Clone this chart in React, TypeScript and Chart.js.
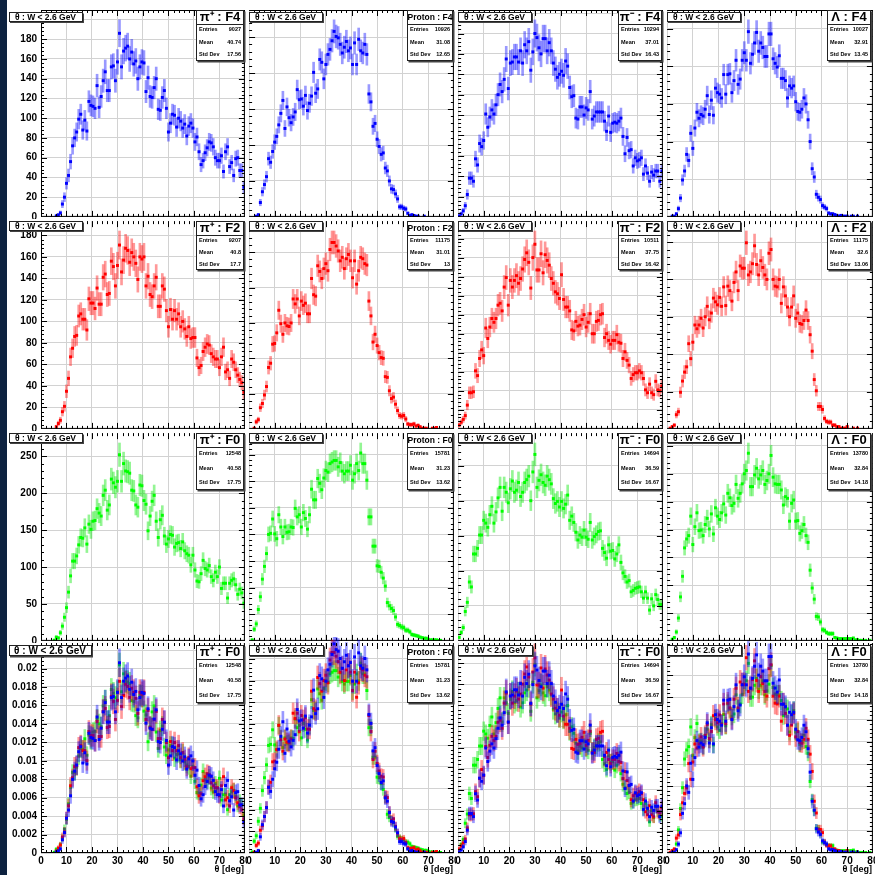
import React, { useEffect, useRef } from 'react';
import { Chart, registerables } from 'chart.js';

Chart.register(...registerables);

// ---------------- data ----------------
// 100 θ bins of 0.8 deg between 0 and 80 deg (bin centres)
const THETA_BIN_WIDTH = 0.8;
const THETA_BINS = Array.from({ length: 100 }, (_, i) => Math.round((i + 0.5) * THETA_BIN_WIDTH * 100) / 100);

// counts per bin, filter F4 (blue)
const PIP_F4 = [
  0, 0, 0, 0, 0, 0, 0, 1, 2, 4,
  13, 20, 34, 42, 56, 72, 80, 86, 99, 104,
  88, 98, 87, 117, 113, 112, 110, 133, 111, 122,
  138, 147, 128, 128, 152, 153, 138, 157, 186, 152,
  168, 171, 173, 160, 167, 155, 158, 140, 152, 157,
  156, 127, 141, 122, 121, 131, 140, 109, 108, 121,
  128, 110, 86, 95, 104, 103, 91, 100, 97, 90,
  94, 82, 92, 95, 90, 76, 81, 66, 53, 57,
  65, 70, 76, 75, 71, 60, 57, 57, 62, 46,
  66, 71, 51, 55, 42, 59, 60, 47, 47, 30,
];
const PROTON_F4 = [
  0, 0, 0, 1, 3, 20, 35, 45, 56, 81,
  76, 91, 104, 112, 128, 144, 162, 123, 153, 138,
  131, 139, 146, 177, 163, 164, 154, 169, 148, 158,
  168, 201, 172, 178, 219, 215, 192, 212, 226, 233,
  245, 258, 251, 249, 240, 228, 236, 244, 231, 235,
  212, 242, 212, 247, 231, 228, 240, 226, 171, 160,
  126, 130, 108, 98, 87, 89, 68, 64, 50, 39,
  38, 32, 25, 14, 14, 12, 11, 5, 2, 3,
  2, 1, 1, 0, 0, 1, 0, 0, 0, 0,
  0, 0, 0, 0, 0, 0, 0, 0, 0, 0,
];
const PIM_F4 = [
  1, 3, 6, 11, 22, 38, 38, 35, 57, 51,
  72, 69, 75, 101, 88, 98, 105, 101, 110, 120,
  130, 123, 135, 155, 126, 151, 152, 157, 157, 152,
  163, 151, 169, 163, 172, 144, 162, 180, 176, 166,
  160, 175, 175, 163, 171, 163, 151, 145, 137, 140,
  143, 139, 153, 148, 127, 118, 119, 97, 96, 108,
  108, 100, 107, 105, 123, 96, 99, 103, 103, 103,
  103, 94, 84, 99, 83, 92, 93, 92, 94, 97,
  79, 62, 78, 65, 66, 50, 58, 55, 56, 58,
  42, 50, 43, 35, 44, 41, 45, 45, 35, 45,
];
const LAMBDA_F4 = [
  0, 0, 1, 1, 4, 11, 25, 49, 61, 83,
  75, 111, 91, 118, 139, 131, 136, 134, 143, 161,
  136, 155, 135, 171, 165, 163, 158, 189, 163, 189,
  190, 165, 181, 208, 176, 183, 208, 218, 208, 246,
  204, 216, 231, 245, 220, 231, 225, 213, 213, 243,
  243, 210, 204, 199, 214, 184, 184, 181, 158, 174,
  171, 174, 153, 140, 139, 143, 158, 150, 129, 100,
  64, 53, 30, 26, 23, 15, 13, 11, 5, 4,
  4, 3, 2, 1, 2, 1, 1, 1, 0, 1,
  1, 0, 1, 0, 0, 0, 0, 0, 0, 0,
];

// filter F2 (red)
const PIP_F2 = [
  0, 0, 0, 0, 0, 0, 0, 2, 5, 8,
  16, 21, 35, 47, 67, 75, 86, 87, 105, 107,
  102, 102, 92, 121, 117, 117, 112, 131, 116, 116,
  141, 144, 125, 126, 156, 151, 133, 152, 171, 146,
  157, 168, 166, 155, 164, 160, 154, 139, 160, 158,
  160, 133, 142, 125, 123, 133, 141, 114, 114, 133,
  130, 110, 95, 111, 102, 110, 102, 107, 95, 100,
  93, 86, 95, 84, 85, 85, 66, 57, 59, 72,
  76, 79, 78, 70, 67, 65, 65, 57, 67, 76,
  53, 55, 47, 65, 62, 55, 50, 46, 43, 34,
];
const PROTON_F2 = [
  0, 0, 1, 10, 13, 30, 36, 48, 60, 87,
  93, 120, 121, 136, 168, 149, 134, 150, 146, 145,
  150, 184, 177, 184, 160, 181, 175, 178, 163, 163,
  213, 190, 188, 231, 223, 213, 227, 234, 224, 254,
  264, 264, 259, 252, 238, 243, 227, 241, 247, 238,
  214, 238, 205, 224, 243, 241, 234, 232, 181, 160,
  123, 134, 118, 108, 101, 100, 74, 73, 54, 43,
  45, 35, 26, 19, 18, 19, 14, 7, 6, 6,
  7, 4, 5, 3, 1, 1, 1, 0, 0, 1,
  1, 2, 0, 0, 0, 0, 0, 0, 0, 0,
];
const PIM_F2 = [
  4, 7, 10, 14, 25, 38, 38, 39, 61, 56,
  74, 83, 77, 106, 95, 107, 116, 112, 116, 130,
  132, 124, 149, 159, 130, 156, 149, 156, 161, 153,
  158, 168, 178, 185, 175, 148, 180, 194, 167, 167,
  184, 164, 183, 177, 172, 158, 153, 144, 142, 137,
  162, 136, 128, 128, 124, 104, 103, 113, 108, 109,
  115, 120, 107, 112, 121, 100, 100, 113, 114, 120,
  121, 96, 100, 93, 89, 93, 93, 99, 91, 90,
  74, 81, 72, 67, 53, 57, 59, 59, 61, 59,
  53, 41, 38, 47, 38, 36, 50, 41, 40, 45,
];
const LAMBDA_F2 = [
  0, 1, 3, 5, 19, 23, 49, 64, 76, 83,
  114, 94, 116, 139, 134, 139, 148, 135, 150, 164,
  146, 155, 175, 170, 166, 176, 164, 190, 165, 191,
  185, 171, 196, 210, 185, 218, 215, 215, 249, 206,
  210, 221, 245, 220, 206, 225, 216, 206, 200, 235,
  240, 200, 191, 190, 200, 168, 190, 178, 163, 150,
  163, 178, 148, 155, 141, 140, 145, 159, 145, 126,
  104, 66, 51, 30, 30, 26, 14, 10, 9, 9,
  5, 5, 3, 3, 1, 1, 1, 3, 0, 0,
  1, 0, 1, 0, 0, 0, 0, 0, 0, 0,
];

// filter F0 (green)
const PIP_F0 = [
  0, 0, 0, 0, 0, 0, 1, 5, 4, 11,
  20, 32, 45, 66, 88, 108, 108, 115, 130, 140,
  139, 153, 131, 158, 151, 162, 163, 179, 173, 169,
  197, 204, 177, 184, 219, 214, 208, 216, 252, 216,
  240, 230, 229, 227, 204, 203, 184, 181, 211, 210,
  190, 185, 149, 169, 189, 197, 162, 140, 164, 170,
  142, 131, 138, 144, 143, 127, 132, 133, 125, 134,
  122, 118, 116, 103, 116, 96, 81, 80, 91, 109,
  98, 96, 102, 87, 82, 93, 87, 100, 71, 78,
  78, 58, 78, 82, 84, 76, 63, 70, 65, 51,
];
const PROTON_F0 = [
  0, 2, 22, 32, 59, 83, 116, 140, 164, 200,
  202, 229, 201, 192, 237, 214, 196, 214, 204, 205,
  214, 213, 249, 233, 237, 214, 241, 230, 210, 237,
  285, 265, 265, 305, 296, 284, 306, 320, 317, 333,
  336, 339, 339, 327, 335, 319, 314, 319, 319, 330,
  302, 314, 333, 320, 353, 333, 333, 302, 233, 233,
  178, 178, 141, 140, 129, 118, 103, 72, 66, 61,
  57, 45, 31, 29, 26, 25, 20, 20, 17, 12,
  11, 10, 9, 7, 6, 5, 5, 3, 2, 2,
  2, 2, 1, 1, 0, 0, 0, 0, 0, 0,
];
const PIM_F0 = [
  5, 12, 19, 42, 55, 84, 77, 124, 124, 132,
  151, 151, 172, 168, 162, 180, 192, 168, 184, 204,
  219, 185, 219, 212, 197, 217, 228, 212, 215, 226,
  206, 212, 226, 230, 235, 200, 241, 266, 219, 229,
  237, 226, 222, 235, 230, 224, 203, 196, 199, 191,
  199, 189, 195, 208, 172, 178, 169, 155, 144, 151,
  148, 158, 148, 145, 169, 144, 149, 152, 156, 157,
  132, 126, 118, 137, 128, 129, 117, 124, 137, 112,
  97, 92, 84, 86, 70, 72, 75, 76, 77, 70,
  61, 70, 61, 44, 60, 50, 66, 59, 52, 52,
];
const LAMBDA_F0 = [
  0, 0, 3, 6, 16, 41, 79, 116, 167, 183,
  189, 224, 173, 205, 230, 198, 199, 189, 209, 220,
  201, 228, 192, 239, 224, 218, 230, 246, 226, 265,
  257, 243, 247, 281, 256, 265, 282, 300, 306, 337,
  277, 277, 298, 310, 291, 298, 306, 281, 288, 300,
  333, 294, 282, 281, 281, 271, 244, 259, 256, 215,
  247, 253, 215, 216, 193, 198, 209, 189, 177, 127,
  95, 75, 44, 43, 34, 20, 19, 15, 13, 13,
  13, 6, 5, 4, 4, 4, 4, 4, 4, 4,
  5, 2, 2, 1, 1, 0, 1, 0, 1, 0,
];

const PARTICLES = ['π⁺', 'Proton', 'π⁻', 'Λ'];
const FILTERS = ['F4', 'F2', 'F0'];
const ENTRIES_F4 = ['9027', '10926', '10294', '10027'];
const MEANS_F4 = ['40.74', '31.08', '37.01', '32.91'];
const STDDEVS_F4 = ['17.56', '12.65', '16.43', '13.45'];
const ENTRIES_F2 = ['9207', '11175', '10511', '11175'];
const MEANS_F2 = ['40.8', '31.01', '37.75', '32.6'];
const STDDEVS_F2 = ['17.7', '13', '16.42', '13.06'];
const ENTRIES_F0 = ['12548', '15781', '14694', '13780'];
const MEANS_F0 = ['40.58', '31.23', '36.59', '32.84'];
const STDDEVS_F0 = ['17.75', '13.62', '16.67', '14.18'];

const X_MIN = 0;
const X_MAX = 80;
const X_STEP = 10;
const Y_STEPS = [
  [20, 50, 20, 50],
  [20, 50, 20, 50],
  [50, 50, 50, 50],
  [0.002, 0.0025, 0.002, 0.0025],
];
const PAD_TITLE = 'θ : W < 2.6 GeV';
const X_TITLE = 'θ [deg]';

// ---------------- styling / layout ----------------
const HISTS = [
  [PIP_F4, PROTON_F4, PIM_F4, LAMBDA_F4],
  [PIP_F2, PROTON_F2, PIM_F2, LAMBDA_F2],
  [PIP_F0, PROTON_F0, PIM_F0, LAMBDA_F0],
];
const STATS = [
  [ENTRIES_F4, MEANS_F4, STDDEVS_F4],
  [ENTRIES_F2, MEANS_F2, STDDEVS_F2],
  [ENTRIES_F0, MEANS_F0, STDDEVS_F0],
];
const MARKER = ['#0000ff', '#ff0000', '#00ff00'];
const ERRBAR = ['rgba(0,0,255,0.4)', 'rgba(255,0,0,0.4)', 'rgba(0,230,0,0.42)'];
const FONT = '"Liberation Sans", Arial, Helvetica, sans-serif';
const COL_EDGES = [41, 247, 456, 665, 874];
const ROW_EDGES = [10, 219, 431, 643, 853];
const STAT_H = [51, 49, 57, 58];
const STAT_W = [48, 46, 44, 44];

type Geo = { left: number; top: number; w: number; h: number; padTop: number; padRight: number; yW: number; xH: number };

function geometry(row: number, col: number): Geo {
  const left = col === 0 ? 8 : COL_EDGES[col];
  const right = col === 3 ? 875 : COL_EDGES[col + 1];
  const top = row === 0 ? 0 : row === 3 ? 637 : ROW_EDGES[row];
  const bottom = row === 3 ? 875 : ROW_EDGES[row + 1];
  return {
    left, top, w: right - left, h: bottom - top,
    padTop: ROW_EDGES[row] - top,
    padRight: right - COL_EDGES[col + 1],
    yW: COL_EDGES[col] - left,
    xH: bottom - ROW_EDGES[row + 1],
  };
}

const fmt = (v: number) => String(parseFloat(Number(v).toPrecision(6)));

function histDatasets(counts: number[], norm: number, k: number, order: number, clip: any) {
  const pts: any[] = [];
  const bars: any[] = [];
  counts.forEach((c, i) => {
    if (c <= 0) return;
    const e = Math.sqrt(c);
    pts.push({ x: THETA_BINS[i], y: c / norm });
    bars.push({ x: THETA_BINS[i], y: [(c - e) / norm, (c + e) / norm] });
  });
  return [
    {
      type: 'bar', data: bars, backgroundColor: ERRBAR[k], borderWidth: 0,
      barThickness: 2, grouped: false, order: order + 1, clip,
    },
    {
      type: 'line', data: pts, showLine: false, pointStyle: 'rect', pointRadius: 2.1,
      pointBackgroundColor: MARKER[k], pointBorderWidth: 0, pointHoverRadius: 0, order, clip,
    },
  ];
}

function drawPave(ctx: CanvasRenderingContext2D, x: number, y: number, w: number, h: number) {
  ctx.fillStyle = '#444';
  ctx.fillRect(x + 1.5, y + 1.5, w, h);
  ctx.fillStyle = '#fff';
  ctx.fillRect(x, y, w, h);
  ctx.strokeStyle = '#222';
  ctx.lineWidth = 1;
  ctx.strokeRect(Math.round(x) + 0.5, Math.round(y) + 0.5, Math.round(w) - 1, Math.round(h) - 1);
}

function padPlugin(row: number, col: number, geo: Geo, yStep: number) {
  return {
    id: 'rootPad',
    afterDraw(chart: any) {
      const { ctx, chartArea: a } = chart;
      const xs = chart.scales.x;
      const ys = chart.scales.y;
      ctx.save();
      // frame
      ctx.strokeStyle = '#000';
      ctx.lineWidth = 1;
      ctx.beginPath();
      ctx.moveTo(a.left, a.bottom - 0.5); ctx.lineTo(a.right, a.bottom - 0.5);
      ctx.moveTo(a.right - 0.5, a.top); ctx.lineTo(a.right - 0.5, a.bottom);
      if (col === 0) { ctx.moveTo(a.left + 0.5, a.top); ctx.lineTo(a.left + 0.5, a.bottom); }
      if (row === 0) { ctx.moveTo(a.left, a.top + 0.5); ctx.lineTo(a.right, a.top + 0.5); }
      // y ticks (inward, both sides)
      const yMinor = yStep / 5;
      for (let k = 1; ; k++) {
        const v = k * yMinor;
        if (v > ys.max) break;
        const L = k % 5 === 0 ? 6 : 3;
        const py = Math.round(ys.getPixelForValue(v)) + 0.5;
        ctx.moveTo(a.left, py); ctx.lineTo(a.left + L, py);
        ctx.moveTo(a.right, py); ctx.lineTo(a.right - L, py);
      }
      // x ticks
      const xMinor = X_STEP / 5;
      for (let k = 1; k * xMinor < X_MAX; k++) {
        const v = k * xMinor;
        const L = k % 5 === 0 ? 6 : 3;
        const px = Math.round(xs.getPixelForValue(v)) + 0.5;
        ctx.moveTo(px, a.bottom); ctx.lineTo(px, a.bottom - L);
        ctx.moveTo(px, a.top); ctx.lineTo(px, a.top + L);
      }
      ctx.stroke();

      // title pave
      const big = row === 3 && col === 0;
      const tx = (col === 0 ? 8.5 : COL_EDGES[col] + 1.5) - geo.left;
      const ty = ROW_EDGES[row] + 2 - geo.top;
      const tw = big ? 83 : row === 3 ? 75 : 74;
      const th = big ? 11 : row === 3 ? 10.5 : 9.5;
      drawPave(ctx, tx, ty, tw, th);
      ctx.fillStyle = '#000';
      ctx.font = `bold ${big ? 10 : 8.5}px ${FONT}`;
      ctx.textAlign = 'center';
      ctx.textBaseline = 'middle';
      ctx.fillText(PAD_TITLE, tx + tw / 2, ty + th / 2 + 0.5);

      // stats pave
      const f = row === 3 ? 2 : row;
      const sw = STAT_W[col];
      const sh = STAT_H[row];
      const sx = COL_EDGES[col + 1] - 3 - sw - geo.left;
      const sy = ROW_EDGES[row] + (row === 0 ? 0 : 2) - geo.top;
      drawPave(ctx, sx, sy, sw, sh);
      const hh = 13.5;
      ctx.beginPath();
      ctx.moveTo(sx, Math.round(sy + hh) + 0.5); ctx.lineTo(sx + sw, Math.round(sy + hh) + 0.5);
      ctx.stroke();
      ctx.fillStyle = '#000';
      ctx.textAlign = 'center';
      ctx.font = col === 1 ? `bold 8.5px ${FONT}` : `bold 13px ${FONT}`;
      ctx.fillText(`${PARTICLES[col]} : ${FILTERS[f]}`, sx + sw / 2, sy + hh / 2 + 1);
      const rowH = (sh - hh) / 3;
      const labels = ['Entries', 'Mean', 'Std Dev'];
      ctx.font = `bold 5.5px ${FONT}`;
      labels.forEach((lab, i) => {
        const yy = sy + hh + rowH * (i + 0.5);
        ctx.textAlign = 'left';
        ctx.fillText(lab, sx + 3, yy);
        ctx.textAlign = 'right';
        ctx.fillText(STATS[f][i][col], sx + sw - 3, yy);
      });

      // x-axis title
      if (row === 3) {
        ctx.font = `bold 9px ${FONT}`;
        ctx.textAlign = 'right';
        ctx.textBaseline = 'middle';
        ctx.fillText(X_TITLE, a.right - 1, 869.5 - geo.top);
      }
      ctx.restore();
    },
  };
}

function buildConfig(row: number, col: number, geo: Geo): any {
  const overlay = row === 3;
  const rowsUsed = overlay ? [2, 1, 0] : [row];
  const clip = overlay ? { left: 0, top: 6, right: 0, bottom: 0 } : undefined;
  const datasets: any[] = [];
  let yMax = 0;
  rowsUsed.forEach((r, idx) => {
    const counts = HISTS[r][col];
    const norm = overlay ? counts.reduce((s, c) => s + c, 0) : 1;
    if (idx === 0) {
      yMax = 1.05 * Math.max(...counts.map((c) => (c + Math.sqrt(c)) / norm));
    }
    const order = 2 * (rowsUsed.length - 1 - idx);
    datasets.push(...histDatasets(counts, norm, r, order, clip));
  });
  const yStep = Y_STEPS[row][col];
  const tickFont = { family: FONT, size: 10, weight: 'bold' as const };
  return {
    type: 'bar',
    data: { datasets },
    options: {
      responsive: false,
      animation: false,
      devicePixelRatio: 1,
      events: [],
      layout: { padding: { top: geo.padTop, right: geo.padRight, left: 0, bottom: 0 } },
      plugins: { legend: { display: false }, tooltip: { enabled: false } },
      scales: {
        x: {
          type: 'linear', min: X_MIN, max: X_MAX, offset: false, bounds: 'data',
          grid: { color: '#d2d2d2', lineWidth: 1, drawTicks: false, offset: false },
          border: { display: false },
          ticks: {
            display: row === 3, stepSize: X_STEP, includeBounds: false, autoSkip: false,
            maxRotation: 0, padding: 2, color: '#000', font: tickFont, callback: (v: number) => fmt(v),
          },
          afterFit: (s: any) => { s.height = geo.xH; s.paddingLeft = 0; s.paddingRight = 0; },
        },
        y: {
          type: 'linear', min: 0, max: yMax, bounds: 'data',
          grid: { color: '#d2d2d2', lineWidth: 1, drawTicks: false },
          border: { display: false },
          ticks: {
            display: col === 0, stepSize: yStep, includeBounds: false, autoSkip: false,
            padding: 4, color: '#000', font: tickFont, callback: (v: number) => fmt(v),
          },
          afterFit: (s: any) => { s.width = geo.yW; s.paddingTop = 0; s.paddingBottom = 0; },
        },
      },
    },
    plugins: [padPlugin(row, col, geo, yStep)],
  };
}

function Panel({ row, col }: { row: number; col: number }) {
  const ref = useRef<HTMLCanvasElement>(null);
  const geo = geometry(row, col);
  useEffect(() => {
    const chart = new Chart(ref.current as HTMLCanvasElement, buildConfig(row, col, geo));
    return () => chart.destroy();
  }, [row, col]);
  return (
    <canvas
      ref={ref}
      width={geo.w}
      height={geo.h}
      style={{ position: 'absolute', left: geo.left, top: geo.top, width: geo.w, height: geo.h }}
    />
  );
}

export default function App() {
  const panels: React.ReactNode[] = [];
  for (let r = 0; r < 4; r++) {
    for (let c = 0; c < 4; c++) panels.push(<Panel key={`${r}-${c}`} row={r} col={c} />);
  }
  return (
    <div style={{ position: 'absolute', left: 0, top: 0, width: 875, height: 875, background: '#fff', overflow: 'hidden' }}>
      <div style={{ position: 'absolute', left: 0, top: 0, width: 7, height: 875, background: '#0d2240' }} />
      {panels}
    </div>
  );
}
